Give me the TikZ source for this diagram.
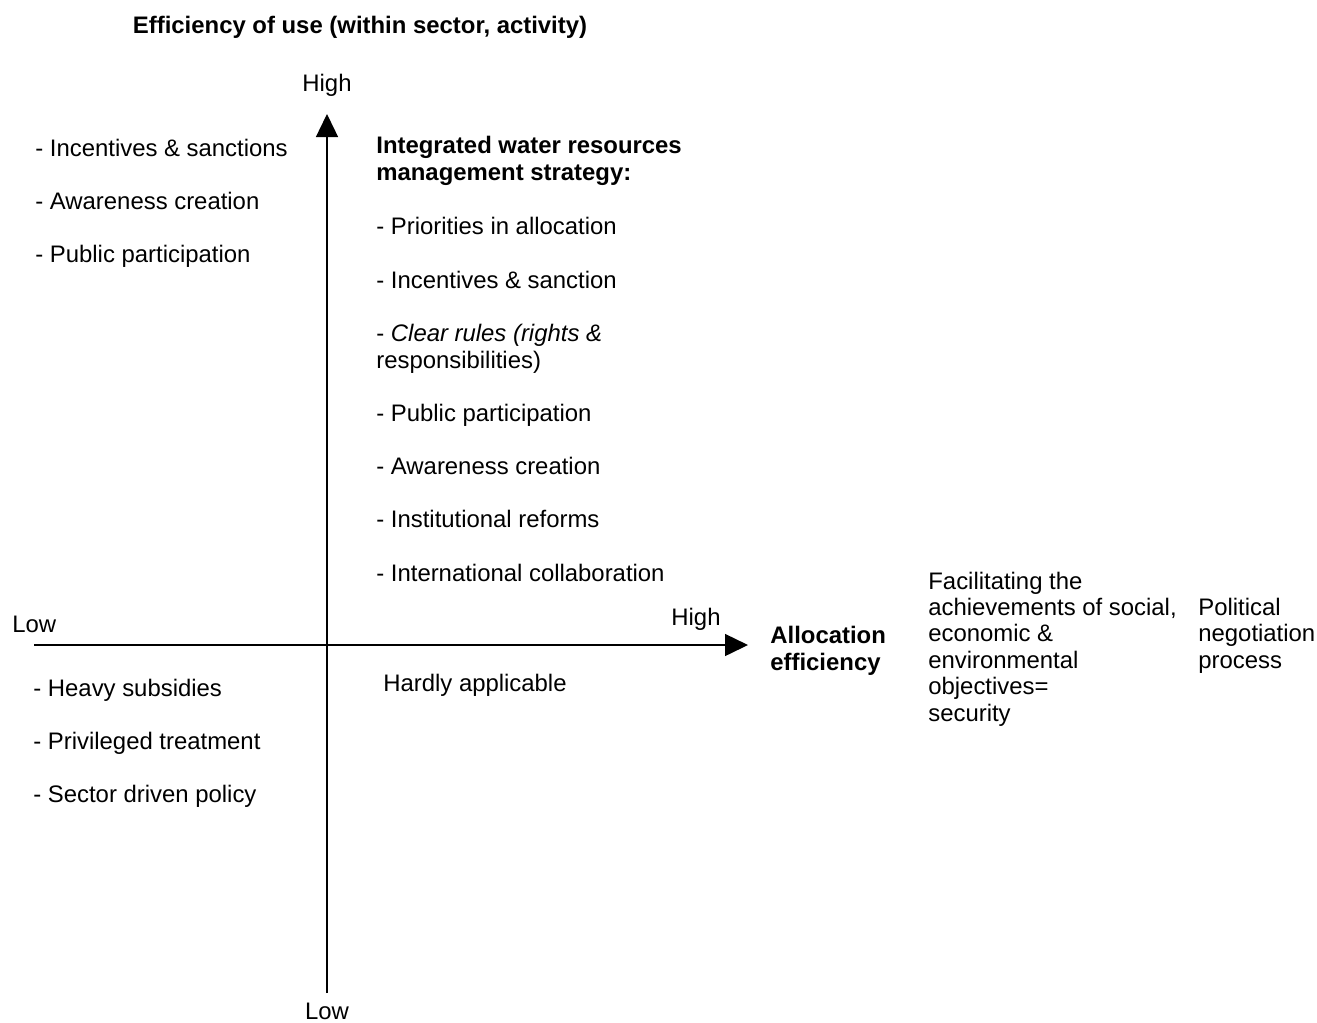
\documentclass[tikz,border=0pt]{standalone}
\usepackage{fontspec}
\setmainfont{Liberation Sans}
\usetikzlibrary{arrows.meta, positioning}

\begin{document}
\begin{tikzpicture}[
    x=0.02cm, y=-0.02cm,
    txt/.style={anchor=base west, inner sep=0pt, align=left, font=\fontsize{13.6pt}{15pt}\selectfont},
    bold/.style={txt, font=\fontsize{13.6pt}{15pt}\selectfont\bfseries},
    axis/.style={line width=0.8pt, -{Triangle[length=0.46cm, width=0.44cm]}}
]
\useasboundingbox (0,0) rectangle (1317,1022);

% Axes
\coordinate (ybot) at (327,993);
\coordinate (ytop) at (327,114);
\coordinate (xleft) at (34,645);
\coordinate (xright) at (748,645);
\draw[axis] (ybot) -- (ytop);
\draw[axis] (xleft) -- (xright);

% Axis labels (multi-line nodes sit on the baseline of their last line)
\node[bold, anchor=base] (title) at (360,33) {Efficiency of use (within sector, activity)};
\node[txt, anchor=base] (yhigh) at (327,91) {High};
\node[txt, anchor=base] (ylow) at (327,1019) {Low};
\node[txt] (xlow) at (12,632) {Low};
\node[txt, anchor=base] (xhigh) at (696,625) {High};
\node[bold] (alloc) at (770,670) {Allocation\\efficiency};

% Quadrants
\node[txt] (upleft) at (35,262) {- Incentives \& sanctions\\[15pt]- Awareness creation\\[15pt]- Public participation};
\node[bold] (iwrm) at (376,180) {Integrated water resources\\management strategy:};
\node[txt, font=\fontsize{13.6pt}{15.15pt}\selectfont] (iwrmlist) at (376,581) {- Priorities in allocation\\[15.15pt]- Incentives \& sanction\\[15.15pt]- \textit{Clear rules (rights \&}\\responsibilities)\\[15.15pt]- Public participation\\[15.15pt]- Awareness creation\\[15.15pt]- Institutional reforms\\[15.15pt]- International collaboration};
\node[txt] (lowleft) at (33,802) {- Heavy subsidies\\[15pt]- Privileged treatment\\[15pt]- Sector driven policy};
\node[txt] (lowright) at (383,691) {Hardly applicable};

% Right side
\node[txt] (goals) at (928,721) {Facilitating the\\achievements of social,\\economic \&\\environmental\\objectives=\\security};
\node[txt] (politics) at (1198,668) {Political\\negotiation\\process};

\end{tikzpicture}
\end{document}
